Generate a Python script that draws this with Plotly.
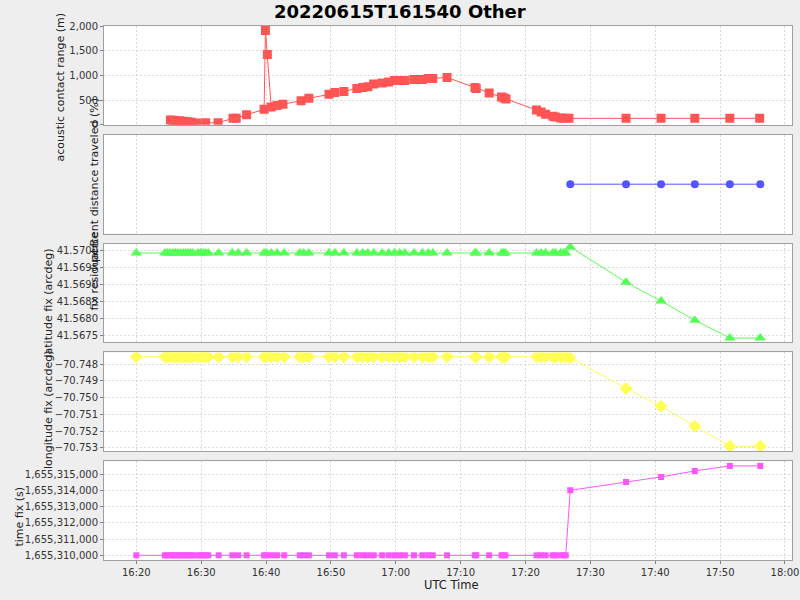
import plotly.graph_objects as go
from plotly.subplots import make_subplots

DAY = "2022-06-15 "

# acoustic contact range (m)
range_times = ["16:25:15", "16:25:36", "16:26:00", "16:26:42", "16:27:18", "16:28:00", "16:28:30", "16:29:18",
               "16:30:42", "16:32:36", "16:34:54", "16:35:24", "16:37:00", "16:39:42", "16:39:54", "16:40:12",
               "16:40:48", "16:41:42", "16:42:36", "16:45:24", "16:46:36", "16:49:42", "16:50:36", "16:52:00",
               "16:54:00", "16:54:54", "16:55:42", "16:56:36", "16:57:54", "16:58:54", "16:59:48", "17:00:36",
               "17:01:24", "17:02:48", "17:04:06", "17:05:00", "17:05:42", "17:07:54", "17:12:12", "17:12:24",
               "17:14:24", "17:16:18", "17:16:42", "17:17:00", "17:21:42", "17:22:24", "17:23:06", "17:24:12",
               "17:24:36", "17:25:24", "17:25:54", "17:26:42", "17:35:30", "17:40:54", "17:46:06", "17:51:30",
               "17:56:06"]
range_m = [97, 93, 88, 83, 74, 63, 50, 36,
           42, 42, 131, 131, 204, 313, 1908, 1423,
           359, 393, 414, 487, 535, 616, 656, 676,
           737, 757, 770, 824, 844, 864, 898, 898,
           898, 918, 918, 939, 939, 959, 757, 737,
           642, 561, 541, 521, 299, 258, 212, 172,
           157, 137, 131, 131, 131, 131, 131, 131,
           131]

# percent distance traveled (%)
pct_times = ["17:26:54", "17:35:30", "17:40:54", "17:46:06", "17:51:30", "17:56:12"]
pct_vals = [100, 100, 100, 100, 100, 100]

# fix times for latitude / longitude / time fix
fix_times = ["16:20:00", "16:24:24", "16:24:48", "16:25:12", "16:25:36", "16:26:00", "16:26:24", "16:26:48",
             "16:27:12", "16:27:36", "16:28:00", "16:28:24", "16:28:42", "16:29:30", "16:29:54", "16:30:18",
             "16:30:42", "16:31:06", "16:32:42", "16:34:48", "16:35:42", "16:37:00", "16:39:42", "16:40:03",
             "16:40:48", "16:41:42", "16:42:48", "16:45:12", "16:45:48", "16:46:36", "16:49:42", "16:50:36",
             "16:52:00", "16:54:00", "16:54:54", "16:55:42", "16:56:36", "16:57:54", "16:58:54", "16:59:48",
             "17:00:36", "17:01:24", "17:02:48", "17:04:06", "17:05:00", "17:05:42", "17:07:54", "17:12:12",
             "17:12:24", "17:14:24", "17:16:18", "17:16:36", "17:16:54", "17:21:42", "17:22:24", "17:23:06",
             "17:24:12", "17:24:36", "17:25:24", "17:25:54", "17:26:12", "17:26:54", "17:35:30", "17:40:54",
             "17:46:06", "17:51:30", "17:56:12"]

lat_vals = [41.56994, 41.56994, 41.56994, 41.56994, 41.56994, 41.56994, 41.56994, 41.56994,
            41.56994, 41.56994, 41.56994, 41.56994, 41.56994, 41.56994, 41.56994, 41.56994,
            41.56994, 41.56994, 41.56994, 41.56994, 41.56994, 41.56994, 41.56994, 41.56994,
            41.56994, 41.56994, 41.56994, 41.56994, 41.56994, 41.56994, 41.56994, 41.56994,
            41.56994, 41.56994, 41.56994, 41.56994, 41.56994, 41.56994, 41.56994, 41.56994,
            41.56994, 41.56994, 41.56994, 41.56994, 41.56994, 41.56994, 41.56994, 41.56994,
            41.56994, 41.56994, 41.56994, 41.56994, 41.56994, 41.56994, 41.56994, 41.56994,
            41.56994, 41.56994, 41.56994, 41.56994, 41.56994, 41.57012, 41.56907, 41.56851,
            41.56794, 41.56741, 41.56741]

lon_vals = [-70.74756, -70.74756, -70.74756, -70.74756, -70.74756, -70.74756, -70.74756, -70.74756,
            -70.74756, -70.74756, -70.74756, -70.74756, -70.74756, -70.74756, -70.74756, -70.74756,
            -70.74756, -70.74756, -70.74756, -70.74756, -70.74756, -70.74756, -70.74756, -70.74756,
            -70.74756, -70.74756, -70.74756, -70.74756, -70.74756, -70.74756, -70.74756, -70.74756,
            -70.74756, -70.74756, -70.74756, -70.74756, -70.74756, -70.74756, -70.74756, -70.74756,
            -70.74756, -70.74756, -70.74756, -70.74756, -70.74756, -70.74756, -70.74756, -70.74756,
            -70.74756, -70.74756, -70.74756, -70.74756, -70.74756, -70.74756, -70.74756, -70.74756,
            -70.74756, -70.74756, -70.74756, -70.74756, -70.74756, -70.74762, -70.74945, -70.75052,
            -70.75171, -70.75290, -70.75290]

tfix_vals = [1655310000, 1655310000, 1655310000, 1655310000, 1655310000, 1655310000, 1655310000, 1655310000,
             1655310000, 1655310000, 1655310000, 1655310000, 1655310000, 1655310000, 1655310000, 1655310000,
             1655310000, 1655310000, 1655310000, 1655310000, 1655310000, 1655310000, 1655310000, 1655310000,
             1655310000, 1655310000, 1655310000, 1655310000, 1655310000, 1655310000, 1655310000, 1655310000,
             1655310000, 1655310000, 1655310000, 1655310000, 1655310000, 1655310000, 1655310000, 1655310000,
             1655310000, 1655310000, 1655310000, 1655310000, 1655310000, 1655310000, 1655310000, 1655310000,
             1655310000, 1655310000, 1655310000, 1655310000, 1655310000, 1655310000, 1655310000, 1655310000,
             1655310000, 1655310000, 1655310000, 1655310000, 1655310000, 1655314020, 1655314540, 1655314850,
             1655315220, 1655315530, 1655315530]

title_text = "20220615T161540 Other"
y_titles = ["acoustic contact range (m)", "percent distance traveled (%)", "latitude fix (arcdeg)",
            "longitude fix (arcdeg)", "time fix (s)"]
x_title = "UTC Time"


def ts(lst):
    return [DAY + t for t in lst]


FONT = "DejaVu Sans"
W, H = 800, 600
ML, MR, MT, MB = 104, 8, 26, 40
PW = W - ML - MR
PH = H - MT - MB

fig = make_subplots(rows=5, cols=1, shared_xaxes=True, vertical_spacing=10 / PH)

fig.add_trace(go.Scatter(x=ts(range_times), y=range_m, mode="lines+markers",
                         line=dict(color="#ff5555", width=1),
                         marker=dict(symbol="square", size=9, color="#ff5555")), row=1, col=1)
fig.add_trace(go.Scatter(x=ts(pct_times), y=pct_vals, mode="lines+markers",
                         line=dict(color="#5555ff", width=1),
                         marker=dict(symbol="circle", size=8, color="#5555ff")), row=2, col=1)
fig.add_trace(go.Scatter(x=ts(fix_times), y=lat_vals, mode="lines+markers",
                         line=dict(color="#55ff55", width=1),
                         marker=dict(symbol="triangle-up", size=10, color="#55ff55")), row=3, col=1)
fig.add_trace(go.Scatter(x=ts(fix_times), y=lon_vals, mode="lines+markers",
                         line=dict(color="#ffff55", width=1),
                         marker=dict(symbol="diamond", size=10, color="#ffff55")), row=4, col=1)
fig.add_trace(go.Scatter(x=ts(fix_times), y=tfix_vals, mode="lines+markers",
                         line=dict(color="#ff55ff", width=1),
                         marker=dict(symbol="square", size=6, color="#ff55ff")), row=5, col=1)

grid = dict(showgrid=True, gridcolor="#d9d9d9", griddash="2px,2px", gridwidth=1,
            showline=True, linecolor="#a0a0a0", linewidth=1, mirror=True, zeroline=False,
            ticks="outside", ticklen=3, tickcolor="#808080", automargin=False,
            tickfont=dict(family=FONT, size=10, color="#333333"))

for i in range(1, 6):
    fig.update_xaxes(row=i, col=1, range=[DAY + "16:15:01", DAY + "18:01:05"],
                     dtick=600000, tickformat="%H:%M", **grid)
    if i < 5:
        fig.update_xaxes(row=i, col=1, ticks="")

fig.update_yaxes(row=1, col=1, range=[0, 2000], dtick=500, tickformat=",d", **grid)
g2 = dict(grid)
g2.update(showgrid=False, showticklabels=False, ticks="")
fig.update_yaxes(row=2, col=1, range=[99, 101], **g2)
fig.update_yaxes(row=3, col=1, range=[41.56728, 41.57022], dtick=0.0005, tickformat=".4f", **grid)
fig.update_yaxes(row=4, col=1, range=[-70.75320, -70.74730], dtick=0.001, tickformat=".3f", **grid)
fig.update_yaxes(row=5, col=1, range=[1655309710, 1655315821], dtick=1000, tickformat=",d", **grid)


def px_x(px):
    return (px - ML) / PW


def px_y(py):
    return (H - MB - py) / PH


title_cy = [87.5, 180, 302.5, 409, 516.5]
title_cx = [60, 94, 48, 48, 19]
ann = []
for t, cx, cy in zip(y_titles, title_cx, title_cy):
    ann.append(dict(text=t, x=px_x(cx), y=px_y(cy), xref="paper", yref="paper",
                    xanchor="center", yanchor="middle", textangle=-90, showarrow=False,
                    font=dict(family=FONT, size=11, color="#222222")))
ann.append(dict(text="fix residual Be", x=px_x(94), y=px_y(313), xref="paper", yref="paper",
                xanchor="center", yanchor="bottom", textangle=-90, showarrow=False,
                font=dict(family=FONT, size=11, color="#222222")))
ann.append(dict(text=x_title, x=px_x(451), y=px_y(585), xref="paper", yref="paper",
                xanchor="center", yanchor="middle", showarrow=False,
                font=dict(family=FONT, size=11.5, color="#222222")))
ann.append(dict(text="<b>" + title_text + "</b>", x=px_x(400), y=px_y(12), xref="paper", yref="paper",
                xanchor="center", yanchor="middle", showarrow=False,
                font=dict(family=FONT, size=18, color="#000000")))

fig.update_layout(
    width=W, height=H, showlegend=False,
    margin=dict(l=ML, r=MR, t=MT, b=MB),
    paper_bgcolor="#eeeeee", plot_bgcolor="#ffffff",
    annotations=ann,
)

fig.write_html("out.html", config={"displayModeBar": False},
               post_script="document.body.style.margin='0px';document.body.style.padding='0px';"
                           "document.body.style.overflow='hidden';")
